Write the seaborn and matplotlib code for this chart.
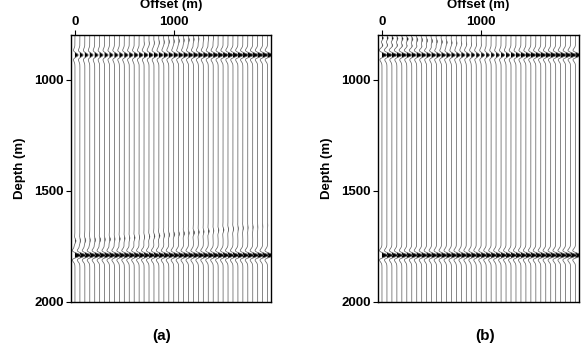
import numpy as np
import pandas as pd
import matplotlib
matplotlib.use("Agg")
import matplotlib.pyplot as plt
import seaborn as sns

# ---------------- data ----------------
offsets = [0, 50, 100, 150, 200, 250, 300, 350, 400, 450,
           500, 550, 600, 650, 700, 750, 800, 850, 900, 950,
           1000, 1050, 1100, 1150, 1200, 1250, 1300, 1350, 1400, 1450,
           1500, 1550, 1600, 1650, 1700, 1750, 1800, 1850, 1900, 1950]

event_depths = [890, 1790]

# panel (a) amplitudes (relative, per trace)
a_top_amp = [0.58, 0.58, 0.6, 0.6, 0.62, 0.62, 0.64, 0.64, 0.66, 0.66,
             0.68, 0.69, 0.7, 0.71, 0.72, 0.74, 0.74, 0.76, 0.77, 0.78,
             0.8, 0.81, 0.82, 0.83, 0.84, 0.85, 0.86, 0.87, 0.88, 0.89,
             0.9, 0.91, 0.92, 0.93, 0.94, 0.95, 0.96, 0.97, 0.98, 0.98]
a_bot_amp = [1.05, 1.05, 1.05, 1.05, 1.05, 1.05, 1.05, 1.05, 1.05, 1.05,
             1.05, 1.05, 1.05, 1.05, 1.05, 1.05, 1.05, 1.05, 1.05, 1.05,
             1.05, 1.05, 1.05, 1.05, 1.05, 1.05, 1.05, 1.05, 1.05, 1.05,
             1.05, 1.05, 1.05, 1.05, 1.05, 1.05, 1.05, 1.05, 1.05, 1.05]
# weak residual event above lower reflector in (a)
a_noise_depth = [1725, 1724, 1723, 1722, 1721, 1720, 1719, 1718, 1717, 1716,
                 1714, 1713, 1711, 1710, 1708, 1706, 1704, 1702, 1700, 1698,
                 1696, 1694, 1692, 1690, 1688, 1686, 1684, 1682, 1680, 1678,
                 1676, 1674, 1672, 1670, 1668, 1666, 1664, 1661, 1658, 1655]
a_noise_amp = [0.18, 0.12, 0.16, 0.1, 0.14, 0.18, 0.12, 0.16, 0.1, 0.14,
               0.12, 0.1, 0.14, 0.08, 0.1, 0.14, 0.16, 0.18, 0.14, 0.16,
               0.18, 0.14, 0.16, 0.12, 0.18, 0.14, 0.12, 0.16, 0.1, 0.12,
               0.14, 0.1, 0.12, 0.08, 0.1, 0.06, 0.08, 0.05, 0.05, 0.04]
a_shallow_depth = [850, 850, 850, 850, 850, 850, 850, 850, 850, 850,
                   848, 846, 844, 842, 840, 838, 836, 834, 832, 830,
                   828, 826, 824, 822, 820, 818, 816, 814, 812, 810,
                   808, 806, 804, 802, 800, 800, 800, 800, 800, 800]
a_shallow_amp = [0.0, 0.0, 0.0, 0.0, 0.0, 0.0, 0.0, 0.0, 0.0, 0.0,
                 0.0, 0.0, 0.0, 0.0, 0.05, 0.06, 0.08, 0.1, 0.1, 0.12,
                 0.12, 0.14, 0.12, 0.14, 0.12, 0.1, 0.08, 0.06, 0.05, 0.0,
                 0.0, 0.0, 0.0, 0.0, 0.0, 0.0, 0.0, 0.0, 0.0, 0.0]

# panel (b) amplitudes
b_top_amp = [0.85, 0.87, 0.85, 0.83, 0.85, 0.83, 0.8, 0.82, 0.8, 0.78,
             0.78, 0.76, 0.76, 0.74, 0.72, 0.7, 0.68, 0.65, 0.62, 0.6,
             0.58, 0.57, 0.57, 0.58, 0.62, 0.68, 0.74, 0.78, 0.82, 0.85,
             0.88, 0.9, 0.92, 0.94, 0.96, 0.97, 0.98, 1.0, 1.02, 1.02]
b_bot_amp = [1.0, 1.0, 1.0, 1.0, 1.0, 1.0, 1.0, 1.0, 1.0, 1.0,
             1.0, 1.0, 1.0, 1.0, 1.0, 1.0, 1.0, 1.0, 1.0, 1.0,
             1.0, 1.0, 1.0, 1.0, 1.0, 1.0, 1.0, 1.02, 1.02, 1.04,
             1.04, 1.06, 1.06, 1.08, 1.08, 1.1, 1.1, 1.1, 1.12, 1.12]
# near-offset noise above the upper reflector in (b)
b_noise1_depth = [815, 815, 816, 817, 818, 819, 820, 822, 824, 826,
                  828, 830, 832, 834, 836, 838, 840, 842, 844, 846,
                  848, 850, 850, 850, 850, 850, 850, 850, 850, 850,
                  850, 850, 850, 850, 850, 850, 850, 850, 850, 850]
b_noise1_amp = [0.3, 0.26, 0.3, 0.24, 0.28, 0.3, 0.26, 0.24, 0.22, 0.2,
                0.22, 0.18, 0.18, 0.16, 0.14, 0.12, 0.1, 0.08, 0.06, 0.05,
                0.04, 0.0, 0.0, 0.0, 0.0, 0.0, 0.0, 0.0, 0.0, 0.0,
                0.0, 0.0, 0.0, 0.0, 0.0, 0.0, 0.0, 0.0, 0.0, 0.0]
b_noise2_depth = [845, 845, 846, 846, 847, 848, 849, 850, 852, 854,
                  856, 858, 860, 862, 864, 866, 868, 870, 870, 870,
                  870, 870, 870, 870, 870, 870, 870, 870, 870, 870,
                  870, 870, 870, 870, 870, 870, 870, 870, 870, 870]
b_noise2_amp = [0.25, 0.2, 0.24, 0.2, 0.22, 0.18, 0.2, 0.16, 0.18, 0.14,
                0.14, 0.12, 0.1, 0.1, 0.08, 0.06, 0.05, 0.0, 0.0, 0.0,
                0.0, 0.0, 0.0, 0.0, 0.0, 0.0, 0.0, 0.0, 0.0, 0.0,
                0.0, 0.0, 0.0, 0.0, 0.0, 0.0, 0.0, 0.0, 0.0, 0.0]

x_ticks = [0, 1000]
y_ticks = [1000, 1500, 2000]
panel_labels = ["(a)", "(b)"]

# ---------------- rendering ----------------
sns.set_theme(style="ticks")
plt.rcParams["font.family"] = ["Liberation Sans", "DejaVu Sans"]
plt.rcParams["font.weight"] = "bold"
plt.rcParams["text.color"] = "black"
plt.rcParams["axes.labelcolor"] = "black"
plt.rcParams["xtick.color"] = "black"
plt.rcParams["ytick.color"] = "black"

depth = np.arange(800.0, 2000.5, 0.5)
WAVE_Z0 = 12.5            # zero-crossing half width of main lobe (m)
SCALE = 56.0              # offset units per unit amplitude


def ricker(dz):
    a = (dz / WAVE_Z0) ** 2 / 2.0
    return (1 - 2 * a) * np.exp(-a)


def build(events):
    rows = []
    traces = []
    for i, off in enumerate(offsets):
        tr = np.zeros_like(depth)
        for dlist, alist in events:
            tr += alist[i] * ricker(depth - dlist[i])
        traces.append(tr)
        rows.append(pd.DataFrame({"trace": i, "depth": depth,
                                  "x": off + SCALE * tr}))
    return pd.concat(rows, ignore_index=True), traces


fig = plt.figure(figsize=(5.81, 3.53), dpi=100)
ax_a = fig.add_axes([71 / 581, 1 - 302 / 353, 200 / 581, 267 / 353])
ax_b = fig.add_axes([378 / 581, 1 - 302 / 353, 201 / 581, 267 / 353])

n = len(offsets)
panels = [
    (ax_a, [([event_depths[0]] * n, a_top_amp), ([event_depths[1]] * n, a_bot_amp),
            (a_noise_depth, a_noise_amp), (a_shallow_depth, a_shallow_amp)]),
    (ax_b, [([event_depths[0]] * n, b_top_amp), ([event_depths[1]] * n, b_bot_amp),
            (b_noise1_depth, b_noise1_amp), (b_noise2_depth, b_noise2_amp)]),
]

for k, (ax, events) in enumerate(panels):
    df, traces = build(events)
    sns.lineplot(data=df, x="x", y="depth", units="trace", estimator=None,
                 orient="y", sort=False, color="0.4", lw=0.55, ax=ax,
                 legend=False)
    for i, off in enumerate(offsets):
        xx = off + SCALE * traces[i]
        ax.fill_betweenx(depth, off, xx, where=traces[i] > 0, color="black",
                         lw=0, interpolate=True)
    ax.set_xlim(-40, 1985)
    ax.set_ylim(2000, 800)
    ax.xaxis.tick_top()
    ax.xaxis.set_label_position("top")
    ax.set_xticks(x_ticks)
    ax.set_yticks(y_ticks)
    ax.set_xticklabels([str(v) for v in x_ticks], fontsize=9.5, fontweight="bold")
    ax.set_yticklabels([str(v) for v in y_ticks], fontsize=9.5, fontweight="bold")
    ax.tick_params(axis="both", direction="out", length=3.5, width=0.8,
                   color="black", pad=1.5)
    ax.set_xlabel("Offset (m)", fontsize=9.5, fontweight="bold", labelpad=6)
    ax.set_ylabel("Depth (m)", fontsize=9.5, fontweight="bold", labelpad=6)
    for sp in ax.spines.values():
        sp.set_visible(True)
        sp.set_linewidth(1.0)
        sp.set_color("black")

fig.text(162 / 581, 1 - 336 / 353, panel_labels[0], ha="center", va="center",
         fontsize=11, fontweight="bold")
fig.text(485 / 581, 1 - 336 / 353, panel_labels[1], ha="center", va="center",
         fontsize=11, fontweight="bold")

fig.savefig("out.png", dpi=100)
